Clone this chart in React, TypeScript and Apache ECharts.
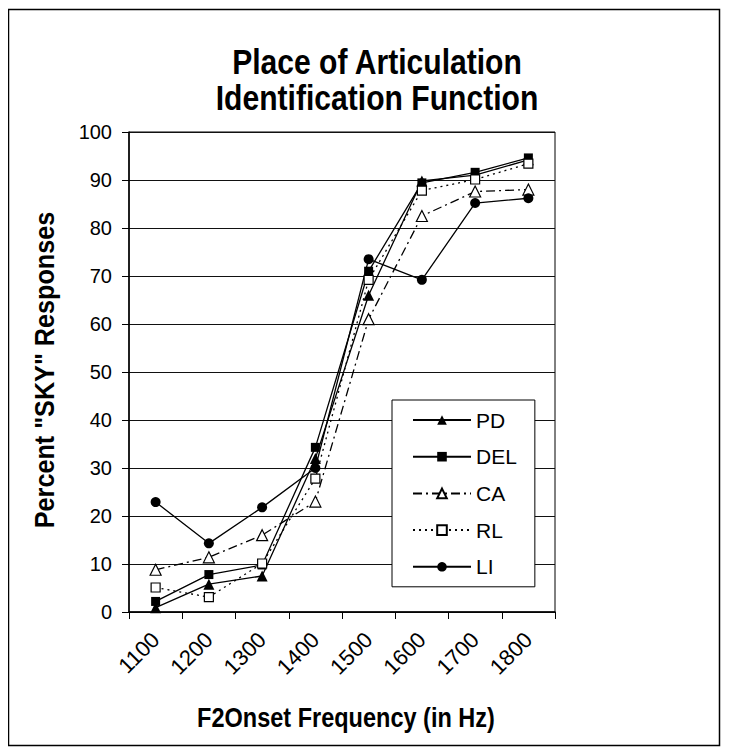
import React, { useEffect, useRef } from "react";
import * as echarts from "echarts";

const categories = ["1100", "1200", "1300", "1400", "1500", "1600", "1700", "1800"];
const pdValues = [0.9, 5.8, 7.5, 32.0, 66.0, 89.8, 91.0, 94.2];
const delValues = [2.2, 7.8, 9.8, 34.3, 71.0, 89.4, 91.6, 94.6];
const caValues = [8.8, 11.4, 16.0, 23.0, 61.0, 82.5, 87.6, 88.0];
const rlValues = [5.1, 3.1, 10.1, 27.8, 69.2, 87.8, 90.1, 93.4];
const liValues = [22.9, 14.3, 21.8, 30.0, 73.5, 69.2, 85.2, 86.2];

const titleLines = ["Place of Articulation", "Identification Function"];
const xName = "F2Onset Frequency (in Hz)";
const yName = 'Percent "SKY" Responses';

const SANS = "'Liberation Sans', Arial, sans-serif";

export default function App() {
  const ref = useRef<HTMLDivElement>(null);
  useEffect(() => {
    if (!ref.current) return;
    const chart = echarts.init(ref.current, undefined, { renderer: "svg" });
    const mk = (name: string, data: number[], symbol: string, filled: boolean, lineType: any) => ({
      name,
      type: "line",
      data,
      symbol,
      symbolSize: symbol === "triangle" ? 11 : symbol === "circle" ? 10 : 9,
      lineStyle: { color: "#000", width: 1.3, type: lineType },
      itemStyle: { color: filled ? "#000" : "#fff", borderColor: "#000", borderWidth: filled ? 0 : 1.2 },
      emphasis: { disabled: true },
      z: 3,
    });
    const boldText = (text: string, x: number, y: number, size: number, sx: number, rot = 0) => ({
      type: "text",
      x,
      y,
      rotation: rot,
      scaleX: sx,
      silent: true,
      style: {
        text,
        fontFamily: SANS,
        fontSize: size,
        fontWeight: "bold",
        fill: "#000",
        align: "center",
        verticalAlign: "middle",
      },
    });
    chart.setOption({
      animation: false,
      backgroundColor: "#fff",
      graphic: [
        {
          type: "rect",
          shape: { x: 0.5, y: 1.5, width: 711, height: 736 },
          style: { fill: "none", stroke: "#000", lineWidth: 1.5 },
          silent: true,
        },
        boldText(titleLines[0], 369, 54, 35, 0.86),
        boldText(titleLines[1], 369, 90, 35, 0.86),
        boldText(xName, 338, 709, 28, 0.84),
        boldText(yName, 37, 362, 28, 0.9, Math.PI / 2),
      ],
      grid: { left: 121, top: 124, width: 426, height: 480, show: true, borderColor: "#000", borderWidth: 1 },
      legend: {
        orient: "vertical",
        left: 384,
        top: 392,
        backgroundColor: "#fff",
        borderColor: "#000",
        borderWidth: 1,
        padding: [9, 18, 9, 20],
        itemWidth: 58,
        itemHeight: 12,
        itemGap: 14.7,
        textStyle: { fontFamily: SANS, fontSize: 21, color: "#000", lineHeight: 22 },
        data: ["PD", "DEL", "CA", "RL", "LI"],
      },
      xAxis: {
        type: "category",
        data: categories,
        boundaryGap: true,
        axisLine: { lineStyle: { color: "#000", width: 1.5 } },
        axisTick: { show: true, length: 7, inside: false, alignWithLabel: false, lineStyle: { color: "#000" } },
        axisLabel: { rotate: 45, margin: 24, fontFamily: SANS, fontSize: 22, color: "#000" },
        splitLine: { show: false },
      },
      yAxis: {
        type: "value",
        min: 0,
        max: 100,
        interval: 10,
        axisLine: { show: true, lineStyle: { color: "#000", width: 1.5 } },
        axisTick: { show: true, length: 7, inside: false, lineStyle: { color: "#000" } },
        axisLabel: { margin: 17, fontFamily: SANS, fontSize: 20, color: "#000" },
        splitLine: { show: true, lineStyle: { color: "#111", width: 1 } },
      },
      series: [
        mk("PD", pdValues, "triangle", true, "solid"),
        mk("DEL", delValues, "rect", true, "solid"),
        mk("CA", caValues, "triangle", false, [9, 4, 2, 4]),
        mk("RL", rlValues, "rect", false, [2, 4]),
        mk("LI", liValues, "circle", true, "solid"),
      ],
    });
    return () => chart.dispose();
  }, []);
  return <div ref={ref} style={{ width: 713, height: 739 }} />;
}
